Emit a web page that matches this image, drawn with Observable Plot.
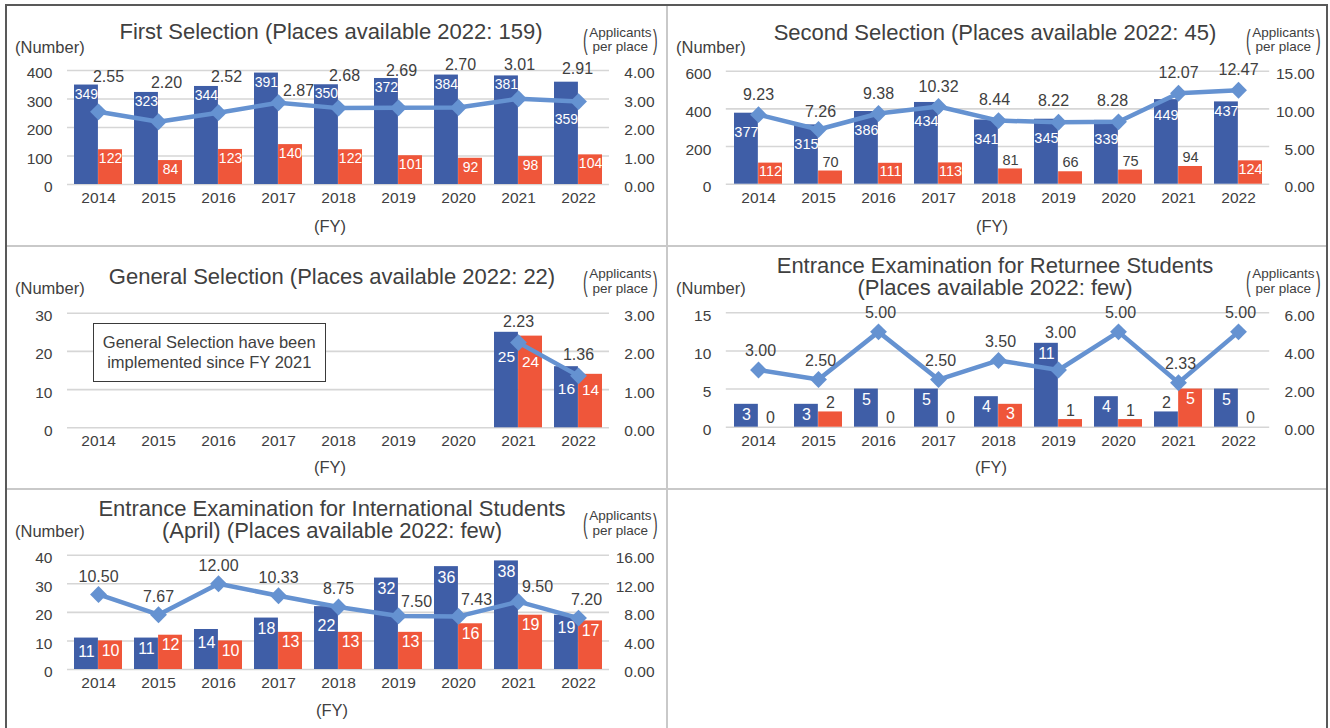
<!DOCTYPE html>
<html>
<head>
<meta charset="utf-8">
<script src="https://cdn.jsdelivr.net/npm/d3@7"></script>
<script src="https://cdn.jsdelivr.net/npm/@observablehq/plot@0.6"></script>
<style>
  html, body { margin: 0; padding: 0; background: #fff; overflow: hidden; }
  #page { position: relative; width: 1330px; height: 728px; overflow: hidden; background: #fff;
          font-family: "Liberation Sans", Arial, Helvetica, sans-serif; color: #404040; }
  .panel { position: absolute; }
  .panel svg { position: absolute; left: 0; top: 0; overflow: visible; }
  .t { position: absolute; white-space: nowrap; line-height: 1; transform: translate(-50%, -50%); }
  .tl { position: absolute; white-space: nowrap; line-height: 1; transform: translateY(-50%); }
  .unit { position: absolute; display: flex; align-items: center; transform: translateY(-50%); font-size: 13.5px; white-space: nowrap; color: #404040; }
  .par { display: inline-block; font-size: 14px; line-height: 1; transform: scaleY(1.95); color: #404040; }
  .sep { position: absolute; background: #c9c9c9; z-index: 5; }
  .note { position: absolute; border: 1.5px solid #3a3a3a; box-sizing: border-box; display: flex; align-items: center;
          justify-content: center; text-align: center; font-size: 16.5px; line-height: 20px; background: #fff; }
</style>
</head>
<body>
<div id="page"></div>
<script>
// ---------------- DATA ----------------
const years = [2014, 2015, 2016, 2017, 2018, 2019, 2020, 2021, 2022];

const firstTitle = ["First Selection (Places available 2022: 159)"];
const firstApplicants = [349, 323, 344, 391, 350, 372, 384, 381, 359];
const firstAccepted   = [122, 84, 123, 140, 122, 101, 92, 98, 104];
const firstRatio      = [2.55, 2.20, 2.52, 2.87, 2.68, 2.69, 2.70, 3.01, 2.91];
const firstCountTicks = [0, 100, 200, 300, 400];
const firstRatioTicks = [0, 1, 2, 3, 4];

const secondTitle = ["Second Selection (Places available 2022: 45)"];
const secondApplicants = [377, 315, 386, 434, 341, 345, 339, 449, 437];
const secondAccepted   = [112, 70, 111, 113, 81, 66, 75, 94, 124];
const secondRatio      = [9.23, 7.26, 9.38, 10.32, 8.44, 8.22, 8.28, 12.07, 12.47];
const secondCountTicks = [0, 200, 400, 600];
const secondRatioTicks = [0, 5, 10, 15];

const generalTitle = ["General Selection (Places available 2022: 22)"];
const generalApplicants = [null, null, null, null, null, null, null, 25, 16];
const generalAccepted   = [null, null, null, null, null, null, null, 24, 14];
const generalRatio      = [null, null, null, null, null, null, null, 2.23, 1.36];
const generalCountTicks = [0, 10, 20, 30];
const generalRatioTicks = [0, 1, 2, 3];
const generalNote = ["General Selection have been", "implemented since FY 2021"];

const returneeTitle = ["Entrance Examination for Returnee Students", "(Places available 2022: few)"];
const returneeApplicants = [3, 3, 5, 5, 4, 11, 4, 2, 5];
const returneeAccepted   = [0, 2, 0, 0, 3, 1, 1, 5, 0];
const returneeRatio      = [3.00, 2.50, 5.00, 2.50, 3.50, 3.00, 5.00, 2.33, 5.00];
const returneeCountTicks = [0, 5, 10, 15];
const returneeRatioTicks = [0, 2, 4, 6];

const intlTitle = ["Entrance Examination for International Students", "(April) (Places available 2022: few)"];
const intlApplicants = [11, 11, 14, 18, 22, 32, 36, 38, 19];
const intlAccepted   = [10, 12, 10, 13, 13, 13, 16, 19, 17];
const intlRatio      = [10.50, 7.67, 12.00, 10.33, 8.75, 7.50, 7.43, 9.50, 7.20];
const intlCountTicks = [0, 10, 20, 30, 40];
const intlRatioTicks = [0, 4, 8, 12, 16];

const countUnit = "(Number)";
const ratioUnit = ["Applicants", "per place"];
const xUnit = "(FY)";

// ---------------- STYLE / LAYOUT ----------------
const BLUE = "#3F5EA7", RED = "#EF563A", LINE = "#6592D1", TEXT = "#404040", GRID = "#d6d6d6";
const FONT = '"Liberation Sans", Arial, Helvetica, sans-serif';

const panels = [
  { title: firstTitle, applicants: firstApplicants, accepted: firstAccepted, ratio: firstRatio,
    countTicks: firstCountTicks, ratioTicks: firstRatioTicks,
    left: 0, top: 0, width: 668, height: 242, mt: 70, mb: 58, ml: 67, mr: 59,
    titleX: 331, titleY: [31.7], unitLeft: 15, unitY: 46.7, apLeft: 583, apY: [32.3, 46.8], fyX: 330, fyY: 225.5,
    ratioDx: 6, ratioDy: -36,
    ratioNudge: { 2014: [10, -35], 2015: [8, -39], 2016: [8, -36], 2017: [20, -12], 2018: [6, -32],
                  2019: [3, -37], 2020: [2, -43], 2021: [1, -34], 2022: [-1, -33] },
    barFont: 14, blueDy: 9, redDy: 9, blueNudge: { 2022: 37 }, redNudge: {} },
  { title: secondTitle, applicants: secondApplicants, accepted: secondAccepted, ratio: secondRatio,
    countTicks: secondCountTicks, ratioTicks: secondRatioTicks,
    left: 668, top: 0, width: 662, height: 242, mt: 70.7, mb: 58.3, ml: 57.8, mr: 60.8,
    titleX: 995, titleY: [33.3], unitLeft: 676, unitY: 46.7, apLeft: 1246, apY: [32.3, 46.8], fyX: 992, fyY: 225.5,
    ratioDx: 0, ratioDy: -20, ratioNudge: { 2015: [2, -18], 2018: [-4, -21], 2019: [-5, -21], 2020: [-6, -21] },
    barFont: 14.5, blueDy: 19, redDy: 8.5, blueNudge: { 2021: 16, 2022: 9 }, redNudge: {} },
  { title: generalTitle, applicants: generalApplicants, accepted: generalAccepted, ratio: generalRatio,
    countTicks: generalCountTicks, ratioTicks: generalRatioTicks,
    left: 0, top: 246, width: 668, height: 242, mt: 66.7, mb: 60.7, ml: 67, mr: 59,
    titleX: 332, titleY: [276.7], unitLeft: 15, unitY: 288.3, apLeft: 583, apY: [274, 288.5], fyX: 330, fyY: 467,
    ratioDx: 0, ratioDy: -21, ratioNudge: {},
    barFont: 15.5, blueDy: 25, redDy: 26, blueNudge: { 2022: 22 }, redNudge: { 2022: 16 },
    note: generalNote, noteBox: [92.5, 322.5, 233.5, 59] },
  { title: returneeTitle, applicants: returneeApplicants, accepted: returneeAccepted, ratio: returneeRatio,
    countTicks: returneeCountTicks, ratioTicks: returneeRatioTicks,
    left: 668, top: 246, width: 662, height: 242, mt: 66.3, mb: 61.3, ml: 57.8, mr: 60.8,
    titleX: 995, titleY: [265.7, 288.3], unitLeft: 676, unitY: 288.3, apLeft: 1246, apY: [274.2, 288.7], fyX: 991, fyY: 467,
    ratioDx: 2, ratioDy: -19, ratioNudge: { 2019: [2, -37] },
    barFont: 16, blueDy: 10.5, redDy: 10, blueNudge: {}, redNudge: {} },
  { title: intlTitle, applicants: intlApplicants, accepted: intlAccepted, ratio: intlRatio,
    countTicks: intlCountTicks, ratioTicks: intlRatioTicks,
    left: 0, top: 488, width: 668, height: 240, mt: 66.7, mb: 59, ml: 67, mr: 59,
    titleX: 332, titleY: [508.7, 531.3], unitLeft: 15, unitY: 531.3, apLeft: 583, apY: [516.2, 530.7], fyX: 332, fyY: 709.7,
    ratioDx: 0, ratioDy: -18, ratioNudge: { 2019: [18, -14], 2020: [18, -17], 2021: [19, -15], 2022: [8, -18] },
    barFont: 16, blueDy: 11, redDy: 10, blueNudge: { 2014: 13.5, 2016: 13, 2018: 19, 2022: 13 }, redNudge: {} }
];

const page = document.getElementById("page");

function addText(str, cx, cy, size, cls = "t") {
  const el = document.createElement("div");
  el.className = cls;
  el.textContent = str;
  el.style.left = cx + "px";
  el.style.top = cy + "px";
  el.style.fontSize = size + "px";
  page.appendChild(el);
  return el;
}

function drawPanel(p) {
  const countMax = p.countTicks[p.countTicks.length - 1];
  const ratioMax = p.ratioTicks[p.ratioTicks.length - 1];
  const k = countMax / ratioMax;
  const frameW = p.width - p.ml - p.mr;
  const step = frameW / years.length;
  const bw = step * 0.8;
  const pxPerUnit = (p.height - p.mt - p.mb) / countMax;

  const rows = years.map((year, i) => ({ year, applicants: p.applicants[i], accepted: p.accepted[i], ratio: p.ratio[i] }));
  const ratioRows = rows.filter(d => d.ratio != null);

  const marks = [
    Plot.gridY({ ticks: p.countTicks, stroke: GRID, strokeOpacity: 1, strokeWidth: 1.6 }),
    Plot.text(p.countTicks, { y: d => d, text: d => String(d), frameAnchor: "left", textAnchor: "end",
      dx: -15, dy: 3, fill: TEXT, fontSize: 15.5 }),
    Plot.text(p.ratioTicks, { y: d => d * k, text: d => d.toFixed(2), frameAnchor: "right", textAnchor: "end",
      dx: 45, dy: 3, fill: TEXT, fontSize: 15.5 }),
    Plot.text(years, { x: d => d, text: d => String(d), frameAnchor: "bottom", dy: 18.5, fill: TEXT, fontSize: 15.5 }),
    Plot.barY(rows.filter(d => d.applicants != null), { x: "year", y: "applicants", fill: BLUE, insetRight: bw / 2 }),
    Plot.barY(rows.filter(d => d.accepted != null), { x: "year", y: "accepted", fill: RED, insetLeft: bw / 2 }),
    Plot.line(ratioRows, { x: "year", y: d => d.ratio * k, stroke: LINE, strokeWidth: 4.5,
      strokeLinejoin: "round", strokeLinecap: "round" }),
    Plot.dot(ratioRows, { x: "year", y: d => d.ratio * k, symbol: "diamond2", r: 7.6, fill: LINE, stroke: "none" })
  ];

  // bar value labels
  for (const d of rows) {
    for (const [key, side, defDy, nudge] of [["applicants", -1, p.blueDy, p.blueNudge], ["accepted", 1, p.redDy, p.redNudge]]) {
      const v = d[key];
      if (v == null) continue;
      const inside = v * pxPerUnit >= 20;
      const dy = inside ? (nudge[d.year] ?? defDy) : -9;
      marks.push(Plot.text([d], { x: "year", y: key, text: dd => String(dd[key]), dx: side * bw / 4, dy,
        fill: inside ? "#ffffff" : TEXT, fontSize: p.barFont }));
    }
  }
  // ratio labels
  for (const d of ratioRows) {
    const [dx, dy] = p.ratioNudge[d.year] ?? [p.ratioDx, p.ratioDy];
    marks.push(Plot.text([d], { x: "year", y: dd => dd.ratio * k, text: dd => dd.ratio.toFixed(2), dx, dy,
      fill: TEXT, fontSize: 16 }));
  }

  const svg = Plot.plot({
    width: p.width, height: p.height,
    marginTop: p.mt, marginBottom: p.mb, marginLeft: p.ml, marginRight: p.mr,
    x: { type: "band", domain: years, paddingInner: 0.2, paddingOuter: 0.1, axis: null },
    y: { domain: [0, countMax], axis: null },
    style: { fontFamily: FONT, background: "none", overflow: "visible" },
    marks
  });

  const box = document.createElement("div");
  box.className = "panel";
  box.style.left = p.left + "px";
  box.style.top = p.top + "px";
  box.style.width = p.width + "px";
  box.style.height = p.height + "px";
  box.appendChild(svg);
  page.appendChild(box);

  // titles and unit labels
  p.title.forEach((line, i) => addText(line, p.titleX, p.titleY[i], 22));
  addText(countUnit, p.unitLeft, p.unitY, 16.5, "tl");
  addText(xUnit, p.fyX, p.fyY, 16.5);

  const unit = document.createElement("div");
  unit.className = "unit";
  unit.style.left = p.apLeft + "px";
  unit.style.top = ((p.apY[0] + p.apY[1]) / 2) + "px";
  unit.innerHTML = `<span class="par">(</span><div style="text-align:center;line-height:${(p.apY[1] - p.apY[0]).toFixed(1)}px;margin:0 1.5px">${ratioUnit[0]}<br>${ratioUnit[1]}</div><span class="par">)</span>`;
  page.appendChild(unit);

  if (p.note) {
    const n = document.createElement("div");
    n.className = "note";
    const [x, y, w, h] = p.noteBox;
    n.style.left = x + "px"; n.style.top = y + "px"; n.style.width = w + "px"; n.style.height = h + "px";
    n.innerHTML = p.note.join("<br>");
    page.appendChild(n);
  }
}

panels.forEach(drawPanel);

// frame and separators
function addDiv(css, cls) { const d = document.createElement("div"); if (cls) d.className = cls; d.style.cssText = css; page.appendChild(d); }
addDiv("position:absolute;left:5px;top:4px;width:1323px;height:760px;border:2px solid #595959;box-sizing:border-box;z-index:6");
addDiv("left:666px;top:6px;width:2px;height:730px", "sep");
addDiv("left:7px;top:245px;width:1319px;height:2px", "sep");
addDiv("left:7px;top:488px;width:1319px;height:2px", "sep");
</script>
</body>
</html>
